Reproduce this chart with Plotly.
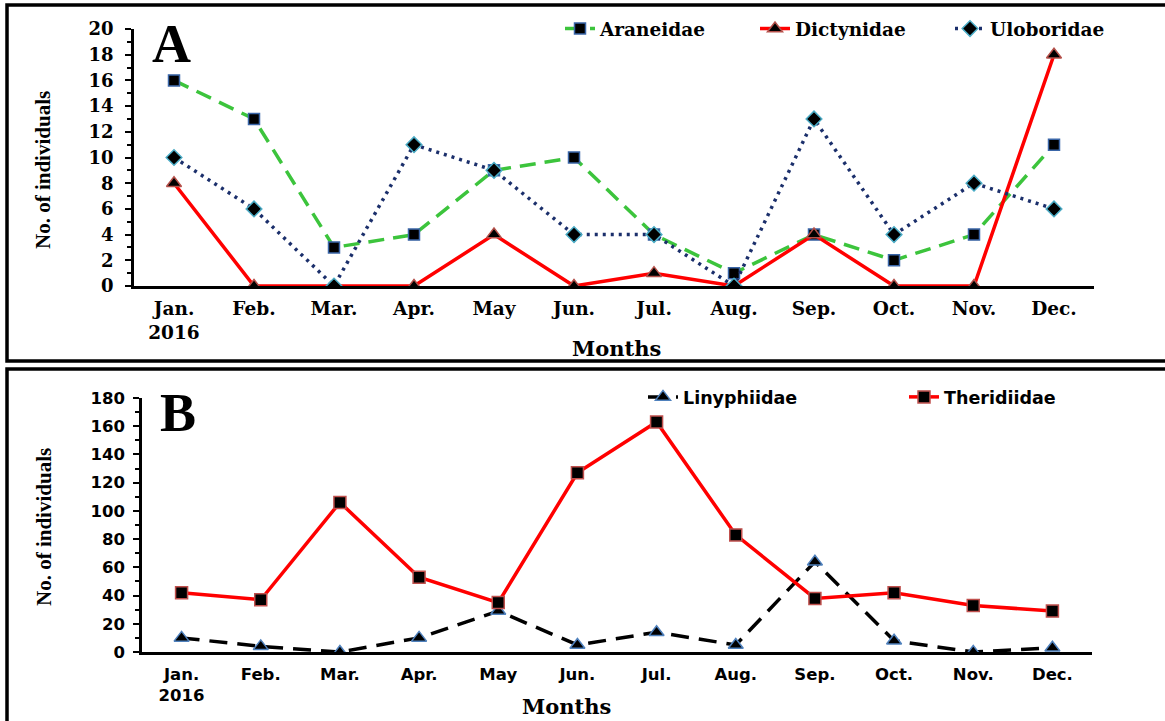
import plotly.graph_objects as go

W, H = 1165, 721

months = ["Jan.<br>2016", "Feb.", "Mar.", "Apr.", "May", "Jun.", "Jul.", "Aug.", "Sep.", "Oct.", "Nov.", "Dec."]

araneidae = [16, 13, 3, 4, 9, 10, 4, 1, 4, 2, 4, 11]
dictynidae = [8, 0, 0, 0, 4, 0, 1, 0, 4, 0, 0, 18]
uloboridae = [10, 6, 0, 11, 9, 4, 4, 0, 13, 4, 8, 6]

linyphiidae = [10, 4, 0, 10, 29, 5, 14, 5, 64, 8, 0, 3]
theridiidae = [42, 37, 106, 53, 35, 127, 163, 83, 38, 42, 33, 29]

def px(x):
    return x / W

def py(y):
    return (H - y) / H

SERIF = "Liberation Serif"
WSERIF = "DejaVu Serif"
SANS = "DejaVu Sans"

fig = go.Figure()

# Panel A traces
fig.add_trace(go.Scatter(
    x=months, y=araneidae, name="Araneidae", mode="lines+markers",
    line=dict(color="#3CC43C", width=3.5, dash="16px,9px"),
    marker=dict(symbol="square", size=11, color="black", line=dict(color="#3A66A8", width=1.5)),
    xaxis="x", yaxis="y", legend="legend"))
fig.add_trace(go.Scatter(
    x=months, y=dictynidae, name="Dictynidae", mode="lines+markers",
    line=dict(color="#FF0000", width=3.5),
    marker=dict(symbol="triangle-up", size=13, color="black", line=dict(color="#B5504A", width=1.5)),
    xaxis="x", yaxis="y", legend="legend"))
fig.add_trace(go.Scatter(
    x=months, y=uloboridae, name="Uloboridae", mode="lines+markers",
    line=dict(color="#1B2F6B", width=3.5, dash="3px,5px"),
    marker=dict(symbol="diamond", size=12, color="black", line=dict(color="#4BACC6", width=1.5)),
    xaxis="x", yaxis="y", legend="legend"))

# Panel B traces
fig.add_trace(go.Scatter(
    x=months, y=linyphiidae, name="Linyphiidae", mode="lines+markers",
    line=dict(color="black", width=3.5, dash="18px,10px"),
    marker=dict(symbol="triangle-up", size=13, color="black", line=dict(color="#4F81BD", width=1.5)),
    xaxis="x2", yaxis="y2", legend="legend2"))
fig.add_trace(go.Scatter(
    x=months, y=theridiidae, name="Theridiidae", mode="lines+markers",
    line=dict(color="#FF0000", width=3.5),
    marker=dict(symbol="square", size=12, color="black", line=dict(color="#C0504D", width=1.5)),
    xaxis="x2", yaxis="y2", legend="legend2"))

axis_common_x = dict(
    type="category", range=[-0.5, 11.5], showline=True, linecolor="black", linewidth=3,
    ticks="", showgrid=False, zeroline=False, fixedrange=True, automargin=False,
)

fig.update_layout(
    width=W, height=H,
    margin=dict(l=0, r=0, t=0, b=0, autoexpand=False),
    paper_bgcolor="white", plot_bgcolor="white",
    showlegend=True,
    xaxis=dict(domain=[px(134), px(1094)], anchor="y", ticklabelstandoff=4,
               tickfont=dict(family=WSERIF, size=18.5, color="black", weight="bold"),
               **axis_common_x),
    yaxis=dict(domain=[py(286), py(29)], anchor="x", range=[0, 20],
               tickvals=list(range(0, 21, 2)), automargin=False, ticklabelstandoff=8,
               showline=True, linecolor="black", linewidth=2.5,
               ticks="outside", ticklen=6, tickwidth=2, tickcolor="black",
               minor=dict(dtick=1, ticks="outside", ticklen=4, tickwidth=2, tickcolor="black", showgrid=False),
               showgrid=False, zeroline=False,
               tickfont=dict(family=WSERIF, size=18, color="black", weight="bold")),
    xaxis2=dict(domain=[px(142), px(1092)], anchor="y2", ticklabelstandoff=5,
                tickfont=dict(family=SANS, size=16.5, color="black", weight="bold"),
                **axis_common_x),
    yaxis2=dict(domain=[py(652), py(398)], anchor="x2", range=[0, 180],
                tickvals=list(range(0, 181, 20)), automargin=False, ticklabelstandoff=5,
                showline=True, linecolor="black", linewidth=2.5,
                ticks="outside", ticklen=6, tickwidth=2, tickcolor="black",
                minor=dict(dtick=10, ticks="outside", ticklen=4, tickwidth=2, tickcolor="black", showgrid=False),
                showgrid=False, zeroline=False,
                tickfont=dict(family=SANS, size=16.5, color="black", weight="bold")),
    legend=dict(orientation="h", xref="container", yref="container",
                x=px(560), y=py(29), xanchor="left", yanchor="middle",
                font=dict(family=WSERIF, size=18.5, color="black", weight="bold"),
                bgcolor="rgba(0,0,0,0)", entrywidth=150, entrywidthmode="pixels"),
    legend2=dict(orientation="h", xref="container", yref="container",
                 x=px(643), y=py(397), xanchor="left", yanchor="middle",
                 font=dict(family=SANS, size=17.5, color="black", weight="bold"),
                 bgcolor="rgba(0,0,0,0)", entrywidth=216, entrywidthmode="pixels"),
)

def ann(text, x, y, fam, size, angle=0):
    return dict(text=text, x=px(x), y=py(y), xref="paper", yref="paper", showarrow=False,
                xanchor="center", yanchor="middle", textangle=angle,
                font=dict(family=fam, size=size, color="black", weight="bold"))

annotations = [
    ann("A", 171, 44, SERIF, 54),
    ann("B", 178, 413, SERIF, 54),
    ann("No. of individuals", 43, 170, SERIF, 21, -90),
    ann("No. of individuals", 44, 527, SERIF, 21, -90),
    ann("Months", 616, 348, WSERIF, 21),
    ann("Months", 566, 706, WSERIF, 21),
]
fig.update_layout(annotations=annotations)

shapes = [
    dict(type="rect", xref="paper", yref="paper", x0=px(7), x1=px(1175), y0=py(361), y1=py(5),
         line=dict(color="black", width=3.5), layer="below"),
    dict(type="rect", xref="paper", yref="paper", x0=px(7), x1=px(1175), y0=py(735), y1=py(369),
         line=dict(color="black", width=3.5), layer="below"),
]
fig.update_layout(shapes=shapes)

fig.write_html("out.html", config={"displayModeBar": False},
               post_script="document.body.style.margin='0';document.body.style.overflow='hidden';")
